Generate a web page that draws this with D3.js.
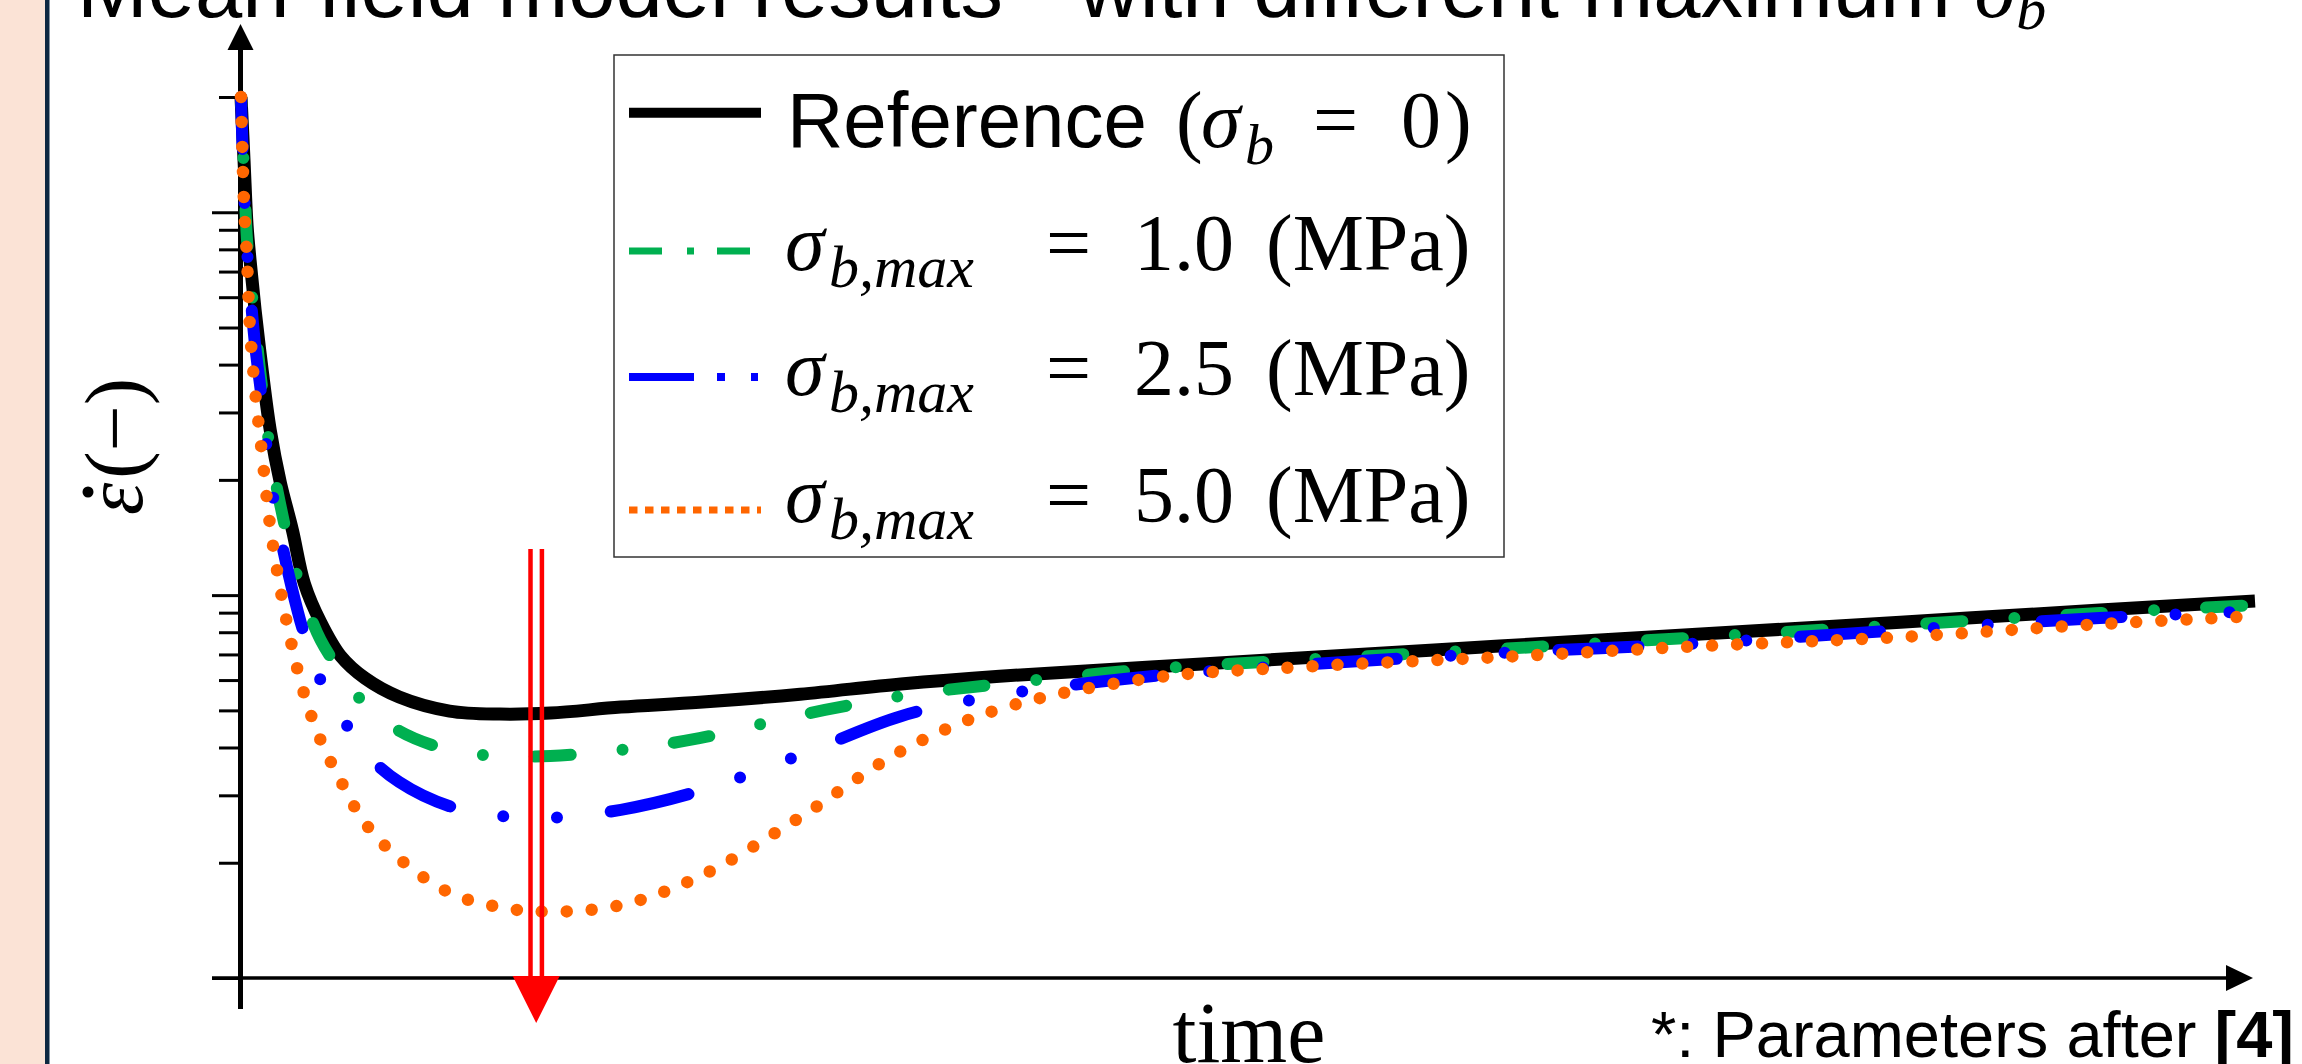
<!DOCTYPE html>
<html>
<head>
<meta charset="utf-8">
<script src="https://cdn.jsdelivr.net/npm/d3@7"></script>
<style>
  html, body { margin: 0; padding: 0; background: #fff; }
  svg { display: block; }
</style>
</head>
<body>
<div id="chart"></div>
<script>
// time in arbitrary units (the axis has no labels)
const time = [0.05, 0.2, 0.35, 0.5, 0.75, 1.1, 1.5, 2, 2.6, 3.2, 4, 5, 6.2, 7.9, 10.4, 12.9, 15.4, 18.9, 22.8, 27.8, 32.8, 37.7, 45.2, 52.6, 62.5, 72.5, 82.4, 92.3, 100];

// strain rate (log axis, arbitrary units)
const reference = [200, 136.7, 92.5, 74.9, 55.5, 38.7, 27.0, 19.7, 14.8, 10.7, 8.5, 6.93, 6.07, 5.42, 4.98, 4.89, 4.92, 5.10, 5.25, 5.51, 5.86, 6.14, 6.49, 6.85, 7.36, 7.91, 8.50, 9.14, 9.65];
const sigma10 = [200, 124.9, 84.5, 68.5, 50.7, 34.7, 23.8, 17.2, 12.5, 9.7, 7.63, 6.3, 5.19, 4.42, 3.94, 3.8, 3.8, 3.94, 4.23, 4.86, 5.45, 5.86, 6.41, 6.77, 7.23, 7.77, 8.35, 8.98, 9.42];
const sigma25 = [200, 114.1, 79.6, 62.6, 45.0, 31.9, 20.2, 14.3, 10.3, 7.86, 6.0, 4.86, 3.89, 3.25, 2.81, 2.65, 2.62, 2.75, 3.08, 3.82, 4.83, 5.48, 6.14, 6.57, 7.06, 7.49, 8.10, 8.71, 9.08];
const sigma50 = [200, 105.6, 74.9, 49.2, 34.1, 23.2, 15.1, 10.4, 7.27, 5.48, 4.18, 3.27, 2.54, 2.05, 1.67, 1.53, 1.49, 1.55, 1.84, 2.63, 3.91, 5.04, 6.07, 6.49, 6.89, 7.36, 7.77, 8.40, 8.81];

const legendValues = ['1.0', '2.5', '5.0'];
const arrowTime = 14.7;   // red arrow marks the minimum
const arrowTop = 13.2;

const W = 2302, H = 1064;
const svg = d3.select('#chart').append('svg').attr('width', W).attr('height', H);

// slide edge on the left
svg.append('rect').attr('width', W).attr('height', H).attr('fill', '#fff');
svg.append('rect').attr('width', 45).attr('height', H).attr('fill', '#FBE3D6');
svg.append('rect').attr('x', 45).attr('width', 4.5).attr('height', H).attr('fill', '#0E2841');

const sans = "'Liberation Sans', Arial, sans-serif";
const serif = "'Liberation Serif', 'Times New Roman', serif";

// title, cut off by the top edge as in the slide
const title = svg.append('text')
    .attr('x', 77).attr('y', 17)
    .attr('font-family', sans).attr('font-size', 85);
title.append('tspan').text('Mean-field model results - with different maximum ');
title.append('tspan').attr('font-family', serif).attr('font-style', 'italic').text('σ');
title.append('tspan').attr('font-family', serif).attr('font-style', 'italic')
    .attr('font-size', 60).attr('dy', 12).text('b');

// scales
const x = d3.scaleLinear().domain([0, 100]).range([240, 2255]);
const y = d3.scaleLog().domain([1, 200]).range([978, 97]);

// y ticks (no labels)
const allTicks = y.ticks();
const major = allTicks.filter(v => Math.abs(Math.log10(v) % 1) < 1e-9);
const minor = allTicks.filter(v => Math.abs(Math.log10(v) % 1) >= 1e-9);

const gMinor = svg.append('g').attr('transform', 'translate(240,0)')
    .call(d3.axisLeft(y).tickValues(minor).tickSize(21).tickFormat(''));
const gMajor = svg.append('g').attr('transform', 'translate(240,0)')
    .call(d3.axisLeft(y).tickValues(major).tickSize(28).tickFormat(''));
[gMinor, gMajor].forEach(g => {
    g.select('.domain').remove();
    g.selectAll('line').attr('stroke', '#000').attr('stroke-width', 3);
});

// axis lines with arrow heads
svg.append('line')
    .attr('x1', 240.5).attr('y1', 1009).attr('x2', 240.5).attr('y2', 45)
    .attr('stroke', '#000').attr('stroke-width', 5);
svg.append('path').attr('d', 'M240.5,24 L227.5,50 L253.5,50 Z').attr('fill', '#000');

svg.append('line')
    .attr('x1', 212).attr('y1', y(1)).attr('x2', 2230).attr('y2', y(1))
    .attr('stroke', '#000').attr('stroke-width', 3.5);
svg.append('path').attr('d', `M2253,${y(1)} L2226,${y(1) - 13} L2226,${y(1) + 13} Z`).attr('fill', '#000');

// curves
const line = d3.line()
    .x((d, i) => x(time[i]))
    .y(d => y(d))
    .curve(d3.curveCatmullRom.alpha(0.5));

const series = [
    { values: reference, color: '#000000', width: 13, dash: null, offset: 0, cap: 'butt' },
    { values: sigma10, color: '#00B050', width: 12, dash: '36 52 0 52', offset: 27, cap: 'round' },
    { values: sigma25, color: '#0000FF', width: 12, dash: '80 54 0 54 0 54', offset: 28, cap: 'round' },
    { values: sigma50, color: '#FF6600', width: 12.5, dash: '0 25', offset: 0, cap: 'round' }
];

svg.append('g').selectAll('path')
    .data(series)
    .join('path')
    .attr('d', d => line(d.values))
    .attr('fill', 'none')
    .attr('stroke', d => d.color)
    .attr('stroke-width', d => d.width)
    .attr('stroke-linecap', d => d.cap)
    .attr('stroke-linejoin', 'round')
    .attr('stroke-dasharray', d => d.dash)
    .attr('stroke-dashoffset', d => d.offset);

// red double-line arrow pointing at the minimum
const ax = x(arrowTime);
[-5.7, 5.7].forEach(dx => {
    svg.append('line')
        .attr('x1', ax + dx).attr('x2', ax + dx)
        .attr('y1', y(arrowTop)).attr('y2', y(1))
        .attr('stroke', '#FF0000').attr('stroke-width', 4.5);
});
svg.append('path')
    .attr('d', `M${ax - 23.5},${y(1) - 2} L${ax + 23.5},${y(1) - 2} L${ax},${y(1) + 45} Z`)
    .attr('fill', '#FF0000');

// legend
const lg = svg.append('g');
lg.append('rect')
    .attr('x', 614).attr('y', 55).attr('width', 890).attr('height', 502)
    .attr('fill', '#fff').attr('stroke', '#333').attr('stroke-width', 1.5);

const sampleY = [112.7, 251, 377, 510];
const textY = [146.5, 270, 395, 522];
const sampleStyle = [
    { color: '#000000', width: 10, dash: null, x2: 761 },
    { color: '#00B050', width: 7, dash: '33 25 7 23 33', x2: 750 },
    { color: '#0000FF', width: 8, dash: '65 23 8 26 8', x2: 758 },
    { color: '#FF6600', width: 7, dash: '8.5 7.5', x2: 761 }
];
sampleStyle.forEach((s, i) => {
    lg.append('line')
        .attr('x1', 629).attr('x2', s.x2)
        .attr('y1', sampleY[i]).attr('y2', sampleY[i])
        .attr('stroke', s.color).attr('stroke-width', s.width)
        .attr('stroke-dasharray', s.dash);
});

// row 1: Reference (σb = 0)
const t0 = lg.append('text').attr('y', textY[0]).attr('font-size', 80).attr('font-family', serif);
t0.append('tspan').attr('x', 787).attr('font-family', sans).attr('font-size', 78).text('Reference');
t0.append('tspan').attr('x', 1176).text('(');
t0.append('tspan').attr('x', 1201).attr('font-style', 'italic').text('σ');
t0.append('tspan').attr('x', 1245).attr('dy', 17).attr('font-style', 'italic').attr('font-size', 58).text('b');
t0.append('tspan').attr('x', 1313).attr('dy', -17).text('=');
t0.append('tspan').attr('x', 1401).text('0');
t0.append('tspan').attr('x', 1445).text(')');

// rows 2-4: σb,max = ... (MPa)
legendValues.forEach((v, i) => {
    const t = lg.append('text').attr('y', textY[i + 1]).attr('font-size', 80).attr('font-family', serif);
    t.append('tspan').attr('x', 785).attr('font-style', 'italic').text('σ');
    t.append('tspan').attr('x', 829).attr('dy', 17).attr('font-style', 'italic').attr('font-size', 60).text('b,max');
    t.append('tspan').attr('x', 1046).attr('dy', -17).text('=');
    t.append('tspan').attr('x', 1134).text(v);
    t.append('tspan').attr('x', 1266).text('(MPa)');
});

// y title: epsilon with a dot on top, then (−)
const yl = svg.append('g').attr('transform', 'translate(142,448) rotate(-90)');
const ylText = yl.append('text')
    .attr('x', -67)
    .attr('font-family', serif).attr('font-size', 82);
ylText.append('tspan').attr('font-style', 'italic').text('ε');
ylText.append('tspan').attr('dx', 4).text('(−)');
yl.append('circle').attr('cx', -44).attr('cy', -54).attr('r', 5.5).attr('fill', '#000');

svg.append('text')
    .attr('x', 1249).attr('y', 1062)
    .attr('text-anchor', 'middle')
    .attr('font-family', serif).attr('font-size', 86)
    .text('time');

const note = svg.append('text')
    .attr('x', 1651).attr('y', 1057)
    .attr('font-family', sans).attr('font-size', 65);
note.append('tspan').text('*: Parameters after ');
note.append('tspan').attr('font-weight', 'bold').text('[4]');
</script>
</body>
</html>
